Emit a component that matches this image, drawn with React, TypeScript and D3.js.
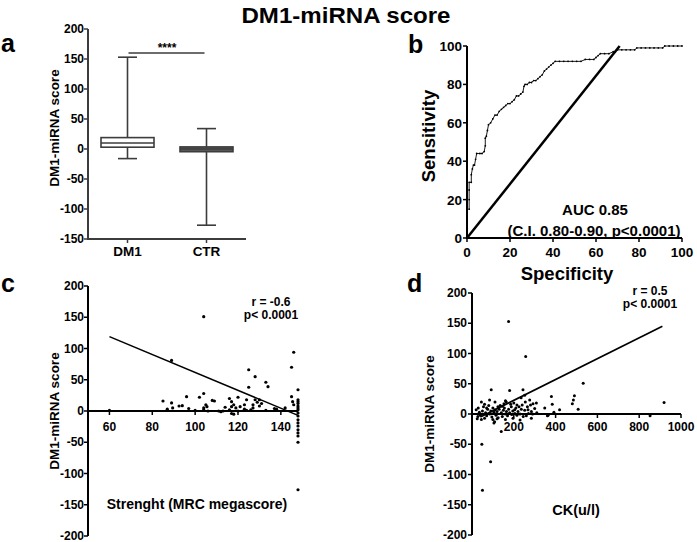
import React from "react";
import * as d3 from "d3";

// ---------- DATA ----------
const groups = ["DM1", "CTR"];
// [min, q1, median, q3, max]
const boxDM1 = [-16, 3, 10, 19, 153];
const boxCTR = [-127, -4.5, 0, 3.5, 34];
const sigLevel = 160;
const sigLabel = "****";
const yTicksA = [200, 150, 100, 50, 0, -50, -100, -150];

const rocX = [1, 1, 1, 1, 2, 2, 2.5, 3, 3.5, 4, 4.5, 6, 7, 8, 8.5, 8.5, 9, 9.5, 10, 11, 12, 13, 14, 15, 16, 17, 18, 19, 20, 21, 22, 23, 24, 25, 26, 26.5, 27, 28, 29, 30, 31, 32, 33, 34, 35, 36, 37, 38, 39, 40, 41, 43, 45, 47, 49, 51, 53, 55, 57, 59, 60, 61, 62, 64, 66, 68, 69, 70, 72, 74, 76, 78, 79, 81, 83, 85, 87, 89, 91, 92, 94, 96, 98, 100];
const rocY = [15, 20, 25, 29, 29, 33, 36, 38, 38, 41, 44, 44, 44, 45, 48, 52, 53, 56, 59, 60, 62, 64, 64, 66, 67, 68, 69, 70, 70, 71, 72, 74, 74, 75, 76, 79, 80, 80, 81, 81, 82, 82, 83, 84, 85, 87, 88, 89, 90, 91, 92, 92, 92, 92, 92, 92, 92, 93, 93, 93, 94, 95, 96, 96, 96, 97, 97, 98, 98, 98, 98, 98, 99, 99, 99, 99, 99, 99, 99, 100, 100, 100, 100, 100];
const refLineX = [0, 71];
const refLineY = [0, 100];
const ticksB = [0, 20, 40, 60, 80, 100];

const mrc = [60, 89, 104, 104, 85, 87, 89, 89.5, 92.5, 94, 97, 96, 104, 105, 105.5, 104, 108, 109, 106, 111, 112, 116, 117, 117, 116, 117, 120, 118, 119, 123, 124, 125, 125, 128, 127, 128, 129, 127, 123, 124, 133, 134, 133, 137, 138, 145, 146, 145, 145.5, 146, 142, 148, 148, 148, 148, 148, 148, 148, 148, 148, 148, 148, 148, 148, 148, 148, 148, 148, 113, 120, 126, 130, 131, 114, 100, 102, 130, 118, 121];
const scoreC = [1, 81, 151, 28, 16, 3, 13, 5, 8, 8.5, 4, 23, 5, 10, 7, 2, 17, 16, 0, 0, -1, 20, 15, 7, 2, -4, 22, 10, 5, 10, 18, 66, 38, 55, 10, 18, 14, 5, 3, 1, 46, 39, 1, 4, 3, 70, 94, 23, 15, 10, 5, 34, 18, 15, 12, 8, 5, 2, -3, -8, -14, -19, -24, -30, -35, -40, -50, -126, 0, 0, 2, 8, 12, 6, 1, 22, 18, -5, 7];
const fitC = [[60, 119], [148, -7]];
const xTicksC = [60, 80, 100, 120, 140];
const yTicksCD = [200, 150, 100, 50, 0, -50, -100, -150, -200];

const ck = [175, 257, 532, 919, 852, 508, 485, 490, 480, 419, 380, 384, 348, 392, 361, 47, 89, 50, 140, 105, 92, 180, 244, 252, 276, 292, 308, 153, 164, 124, 84, 45, 20, 28, 60, 108, 188, 204, 220, 236, 252, 268, 284, 196, 284, 260, 364, 30, 35, 40, 50, 55, 65, 70, 75, 80, 85, 90, 95, 100, 105, 110, 115, 120, 125, 130, 135, 140, 145, 150, 155, 160, 165, 170, 175, 180, 185, 190, 195, 200, 205, 210, 215, 225, 230, 240, 245, 255, 265, 270, 280, 290, 300, 310, 60, 70, 110, 120, 145, 160, 215, 235, 25, 45, 100, 160, 230];
const scoreD = [153, 95, 51, 19, -3, 8, 23, 30, 17, 7, 29, 16, 10, 3, -3, -50, -79, -126, -29, -15, 40, 39, 40, 31, 23, 17, 18, 17, 20, 12, 23, 20, 7, -4, -7, -13, 12, 7, 4, 8, 6, 7, 4, -7, -7, -3, -2, 10, 3, -2, 5, 12, 2, -3, 8, 14, 0, 5, -5, 10, 3, 7, -2, 4, -6, 8, 14, 2, -4, 6, 10, 0, 4, -3, 8, 2, 16, -1, 5, 18, 1, 10, -2, 12, 0, 15, -4, 20, 12, 1, 15, 0, 9, 2, 16, 10, 20, -8, 13, 22, 15, 27, -8, -9, -9, -9, -10];
const fitD = [[40, -5], [911, 145]];
const xTicksD = [200, 400, 600, 800, 1000];

// ---------- STYLE ----------
const FONT = "'Liberation Sans', Arial, Helvetica, sans-serif";

export default function App() {
  const xA = d3.scalePoint<string>().domain(groups).range([88, 246]).padding(0.5);
  const yA = d3.scaleLinear().domain([-150, 200]).range([239, 29]);
  const xB = d3.scaleLinear().domain([0, 100]).range([467, 682]);
  const yB = d3.scaleLinear().domain([0, 100]).range([238, 46]);
  const xC = d3.scaleLinear().domain([50, 148]).range([88, 298]);
  const yC = d3.scaleLinear().domain([-200, 200]).range([536, 286]);
  const xD = d3.scaleLinear().domain([0, 1000]).range([472, 681]);
  const yD = d3.scaleLinear().domain([-200, 200]).range([535, 293]);

  const gray = "#3c3c3c";
  const boxW = 53;
  const capW = 19;
  const boxes = [
    { g: groups[0], v: boxDM1, fill: "#ffffff" },
    { g: groups[1], v: boxCTR, fill: "#5a5a5a" },
  ];

  const rocLine = d3
    .line<number>()
    .x((_, i) => xB(rocX[i]))
    .y((_, i) => yB(rocY[i]));
  const rocPath = rocLine(rocX) || "";

  const bold = { fontFamily: FONT, fontWeight: 700 as const };

  return (
    <svg
      width={697}
      height={542}
      style={{ position: "absolute", left: 0, top: 0, background: "#fff" }}
    >
      <rect x={0} y={0} width={697} height={542} fill="#fff" />
      <text
        x={346}
        y={23}
        textAnchor="middle"
        fontSize={22}
        textLength={209}
        lengthAdjust="spacingAndGlyphs"
        {...bold}
      >
        DM1-miRNA score
      </text>

      {/* panel letters */}
      <text x={1} y={52} fontSize={25} {...bold}>a</text>
      <text x={408} y={53} fontSize={25} {...bold}>b</text>
      <text x={1} y={292} fontSize={25} {...bold}>c</text>
      <text x={407} y={292} fontSize={25} {...bold}>d</text>

      {/* ---------- Panel a ---------- */}
      <g>
        <line x1={88} x2={88} y1={yA(200)} y2={yA(-150)} stroke={gray} strokeWidth={2} />
        <line x1={87} x2={246} y1={239} y2={239} stroke={gray} strokeWidth={2} />
        {yTicksA.map((t) => (
          <g key={t}>
            <line x1={84} x2={88} y1={yA(t)} y2={yA(t)} stroke={gray} strokeWidth={1.5} />
            <text x={84} y={yA(t) + 4} textAnchor="end" fontSize={12} {...bold}>
              {t}
            </text>
          </g>
        ))}
        {groups.map((g) => (
          <g key={g}>
            <line x1={xA(g)} x2={xA(g)} y1={239} y2={243} stroke={gray} strokeWidth={1.5} />
            <text x={xA(g)} y={256} textAnchor="middle" fontSize={13.5} {...bold}>
              {g}
            </text>
          </g>
        ))}
        <text
          transform={`translate(59,128) rotate(-90)`}
          textAnchor="middle"
          fontSize={13.5}
          {...bold}
        >
          DM1-miRNA score
        </text>
        {boxes.map((b) => {
          const cx = xA(b.g) as number;
          const [mn, q1, md, q3, mx] = b.v;
          return (
            <g key={b.g} stroke={gray} strokeWidth={1.6}>
              <line x1={cx} x2={cx} y1={yA(mx)} y2={yA(q3)} />
              <line x1={cx} x2={cx} y1={yA(q1)} y2={yA(mn)} />
              <line x1={cx - capW / 2} x2={cx + capW / 2} y1={yA(mx)} y2={yA(mx)} />
              <line x1={cx - capW / 2} x2={cx + capW / 2} y1={yA(mn)} y2={yA(mn)} />
              <rect
                x={cx - boxW / 2}
                y={yA(q3)}
                width={boxW}
                height={yA(q1) - yA(q3)}
                fill={b.fill}
              />
              <line x1={cx - boxW / 2} x2={cx + boxW / 2} y1={yA(md)} y2={yA(md)} />
            </g>
          );
        })}
        <line
          x1={(xA(groups[0]) as number) + 1}
          x2={(xA(groups[1]) as number) - 2}
          y1={yA(sigLevel)}
          y2={yA(sigLevel)}
          stroke={gray}
          strokeWidth={1.3}
        />
        <text
          x={((xA(groups[0]) as number) + (xA(groups[1]) as number)) / 2}
          y={yA(sigLevel) - 1}
          textAnchor="middle"
          fontSize={12}
          {...bold}
        >
          {sigLabel}
        </text>
      </g>

      {/* ---------- Panel b ---------- */}
      <g>
        <line x1={xB(0)} x2={xB(0)} y1={yB(100)} y2={yB(0)} stroke="#000" strokeWidth={2} />
        <line x1={xB(0) - 1} x2={xB(100)} y1={yB(0)} y2={yB(0)} stroke="#000" strokeWidth={2} />
        {ticksB.map((t) => (
          <g key={"by" + t}>
            <line x1={xB(0) - 4} x2={xB(0)} y1={yB(t)} y2={yB(t)} stroke="#000" strokeWidth={1.5} />
            <text x={462} y={yB(t) + 5} textAnchor="end" fontSize={13.5} {...bold}>
              {t}
            </text>
          </g>
        ))}
        {ticksB.map((t) => (
          <g key={"bx" + t}>
            <line x1={xB(t)} x2={xB(t)} y1={yB(0)} y2={yB(0) + 4} stroke="#000" strokeWidth={1.5} />
            <text x={xB(t)} y={257} textAnchor="middle" fontSize={13.5} {...bold}>
              {t}
            </text>
          </g>
        ))}
        <text
          transform={`translate(435,136) rotate(-90)`}
          textAnchor="middle"
          fontSize={18.5}
          {...bold}
        >
          Sensitivity
        </text>
        <text x={567} y={280} textAnchor="middle" fontSize={18.5} {...bold}>
          Specificity
        </text>
        <line
          x1={xB(refLineX[0])}
          y1={yB(refLineY[0])}
          x2={xB(refLineX[1])}
          y2={yB(refLineY[1])}
          stroke="#000"
          strokeWidth={2.5}
        />
        <path d={rocPath} fill="none" stroke="#000" strokeWidth={0.9} />
        {rocX.map((x, i) => (
          <circle key={i} cx={xB(x)} cy={yB(rocY[i])} r={0.9} fill="#000" />
        ))}
        <text x={595} y={215} textAnchor="middle" fontSize={15} {...bold}>
          AUC 0.85
        </text>
        <text x={594} y={236} textAnchor="middle" fontSize={15} {...bold}>
          (C.I. 0.80-0.90, p&lt;0.0001)
        </text>
      </g>

      {/* ---------- Panel c ---------- */}
      <g>
        <line x1={88} x2={88} y1={yC(200)} y2={yC(-200)} stroke="#000" strokeWidth={2} />
        <line x1={88} x2={xC(148)} y1={yC(0)} y2={yC(0)} stroke="#000" strokeWidth={2} />
        {yTicksCD.map((t) => (
          <g key={"cy" + t}>
            <line x1={84} x2={88} y1={yC(t)} y2={yC(t)} stroke="#000" strokeWidth={1.5} />
            <text x={84} y={yC(t) + 4} textAnchor="end" fontSize={12} {...bold}>
              {t}
            </text>
          </g>
        ))}
        {xTicksC.map((t) => (
          <g key={"cx" + t}>
            <line x1={xC(t)} x2={xC(t)} y1={yC(0)} y2={yC(0) + 4} stroke="#000" strokeWidth={1.5} />
            <text x={xC(t)} y={yC(0) + 20} textAnchor="middle" fontSize={12} {...bold}>
              {t}
            </text>
          </g>
        ))}
        <text
          transform={`translate(59,411) rotate(-90)`}
          textAnchor="middle"
          fontSize={13.5}
          {...bold}
        >
          DM1-miRNA score
        </text>
        <text x={197} y={509} textAnchor="middle" fontSize={14} {...bold}>
          Strenght (MRC megascore)
        </text>
        <line
          x1={xC(fitC[0][0])}
          y1={yC(fitC[0][1])}
          x2={xC(fitC[1][0])}
          y2={yC(fitC[1][1])}
          stroke="#000"
          strokeWidth={1.6}
        />
        {mrc.map((x, i) => (
          <circle key={i} cx={xC(x)} cy={yC(scoreC[i])} r={1.6} fill="#000" />
        ))}
        <text x={271} y={306} textAnchor="middle" fontSize={12} {...bold}>
          r = -0.6
        </text>
        <text x={271} y={319} textAnchor="middle" fontSize={12} {...bold}>
          p&lt; 0.0001
        </text>
      </g>

      {/* ---------- Panel d ---------- */}
      <g>
        <line x1={472} x2={472} y1={yD(200)} y2={yD(-200)} stroke="#000" strokeWidth={2} />
        <line x1={472} x2={xD(1000)} y1={yD(0)} y2={yD(0)} stroke="#000" strokeWidth={2} />
        {yTicksCD.map((t) => (
          <g key={"dy" + t}>
            <line x1={468} x2={472} y1={yD(t)} y2={yD(t)} stroke="#000" strokeWidth={1.5} />
            <text x={467} y={yD(t) + 4} textAnchor="end" fontSize={12} {...bold}>
              {t}
            </text>
          </g>
        ))}
        {xTicksD.map((t) => (
          <g key={"dx" + t}>
            <line x1={xD(t)} x2={xD(t)} y1={yD(0)} y2={yD(0) + 4} stroke="#000" strokeWidth={1.5} />
            <text x={xD(t)} y={yD(0) + 17} textAnchor="middle" fontSize={12} {...bold}>
              {t}
            </text>
          </g>
        ))}
        <text
          transform={`translate(434,414) rotate(-90)`}
          textAnchor="middle"
          fontSize={13.5}
          {...bold}
        >
          DM1-miRNA score
        </text>
        <text x={576} y={515} textAnchor="middle" fontSize={14.5} {...bold}>
          CK(u/l)
        </text>
        <line
          x1={xD(fitD[0][0])}
          y1={yD(fitD[0][1])}
          x2={xD(fitD[1][0])}
          y2={yD(fitD[1][1])}
          stroke="#000"
          strokeWidth={1.6}
        />
        {ck.map((x, i) => (
          <circle key={i} cx={xD(x)} cy={yD(scoreD[i])} r={1.5} fill="#000" />
        ))}
        <text x={650} y={295} textAnchor="middle" fontSize={12} {...bold}>
          r = 0.5
        </text>
        <text x={650} y={308} textAnchor="middle" fontSize={12} {...bold}>
          p&lt; 0.0001
        </text>
      </g>
    </svg>
  );
}
